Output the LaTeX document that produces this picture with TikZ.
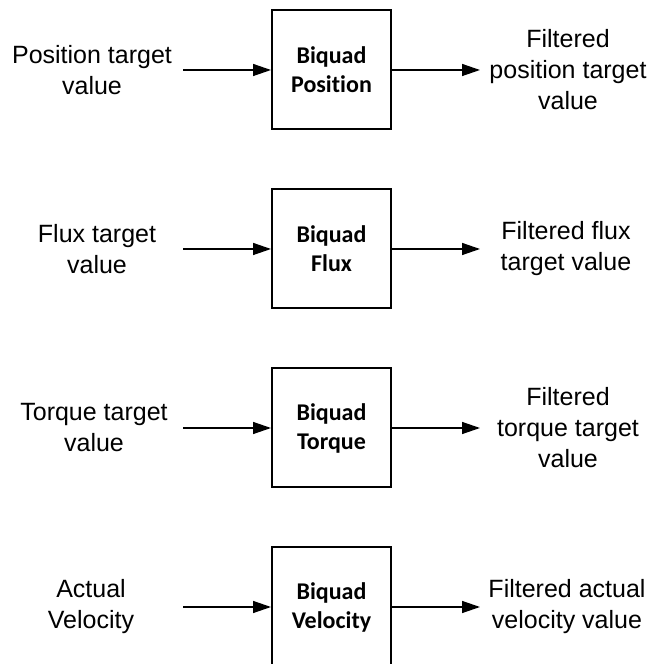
\documentclass[tikz,border=0pt]{standalone}
\usepackage{fontspec}
\setmainfont{Liberation Sans}
\newfontfamily\boxfont[Ligatures=NoCommon]{Carlito}
\usepackage{tikz}
\usetikzlibrary{arrows.meta, positioning}

\tikzset{
  biquad/.style={draw, line width=2pt, minimum width=119pt, minimum height=119pt,
    inner sep=0pt, align=center, font=\boxfont\bfseries\fontsize{24}{29}\selectfont},
  label/.style={align=center, inner sep=0pt, font=\fontsize{25}{31}\selectfont},
  flow/.style={line width=1.4pt, -{Triangle[length=18pt, width=12pt]}}
}

\begin{document}
\begin{tikzpicture}[x=1pt, y=1pt]
\useasboundingbox (0,0) rectangle (653,664);

% Position
\node[biquad] (bpos) at (331.5,594) {Biquad\\Position};
\node[label] (inpos) at (92,594) {Position target\\value};
\node[label] (outpos) at (568,594) {Filtered\\position target\\value};
\coordinate (spos) at (183,594);
\coordinate (epos) at (480,594);
\draw[flow] (spos) -- (bpos.west);
\draw[flow] (bpos.east) -- (epos);

% Flux
\node[biquad] (bflux) at (331.5,415) {Biquad\\Flux};
\node[label] (influx) at (97,415) {Flux target\\value};
\node[label] (outflux) at (566,415) {Filtered flux\\target value};
\coordinate (sflux) at (183,415);
\coordinate (eflux) at (480,415);
\draw[flow] (sflux) -- (bflux.west);
\draw[flow] (bflux.east) -- (eflux);

% Torque
\node[biquad] (btrq) at (331.5,236) {Biquad\\Torque};
\node[label] (intrq) at (94,236) {Torque target\\value};
\node[label] (outtrq) at (568,236) {Filtered\\torque target\\value};
\coordinate (strq) at (183,236);
\coordinate (etrq) at (480,236);
\draw[flow] (strq) -- (btrq.west);
\draw[flow] (btrq.east) -- (etrq);

% Velocity
\node[biquad] (bvel) at (331.5,57) {Biquad\\Velocity};
\node[label] (invel) at (91,57) {Actual\\Velocity};
\node[label] (outvel) at (567,57) {Filtered actual\\velocity value};
\coordinate (svel) at (183,57);
\coordinate (evel) at (480,57);
\draw[flow] (svel) -- (bvel.west);
\draw[flow] (bvel.east) -- (evel);

\end{tikzpicture}
\end{document}
